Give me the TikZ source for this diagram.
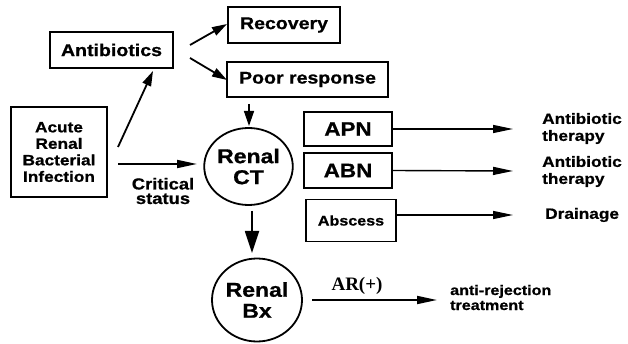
\documentclass[tikz,border=0pt]{standalone}
\usepackage{fontspec}
\setmainfont[FakeStretch=1.15, BoldFeatures={FakeBold=0.8}]{Liberation Sans}
\newfontfamily\arfont{Liberation Serif}
\usetikzlibrary{arrows.meta}
\tikzset{
  box/.style={draw, line width=1.8pt, inner sep=0pt, font=\bfseries\fontsize{17}{19}\selectfont},
  circ/.style={draw, ellipse, line width=1.8pt, inner sep=0pt, align=center, font=\bfseries\fontsize{20}{21}\selectfont},
  lbl/.style={font=\bfseries\fontsize{15}{17}\selectfont, align=left, inner sep=0pt},
  arr/.style={line width=1.8pt, -{Triangle[length=15pt,width=9pt]}},
  harr/.style={line width=1.4pt, -{Triangle[length=20pt,width=8pt]}}
}
\usetikzlibrary{shapes.geometric}
\begin{document}
\begin{tikzpicture}[x=1pt,y=-1pt]
\useasboundingbox[fill=white] (0,0) rectangle (628,344);
% boxes
\node[box, minimum width=123pt, minimum height=36pt] (anti) at (111.5,50) {Antibiotics};
\node[box, minimum width=112pt, minimum height=36pt] (rec) at (284,25) {Recovery};
\node[box, minimum width=161pt, minimum height=35pt] (poor) at (307.5,79.5) {Poor response};
\node[box, minimum width=96pt, minimum height=90pt, align=center, font=\bfseries\fontsize{15}{16.5}\selectfont] (acute) at (59,152) {Acute\\Renal\\Bacterial\\Infection};
\node[box, minimum width=88pt, minimum height=34pt, font=\bfseries\fontsize{19.5}{21}\selectfont] (apn) at (348,129) {APN};
\node[box, minimum width=88pt, minimum height=35pt, font=\bfseries\fontsize{19.5}{21}\selectfont] (abn) at (348,170.5) {ABN};
\node[box, minimum width=90pt, minimum height=42pt, font=\bfseries\fontsize{14}{16}\selectfont] (absc) at (351,220.5) {Abscess};
% circles
\node[circ, minimum width=87pt, minimum height=77pt] (ct) at (248.5,166.5) {Renal\\CT};
\node[circ, minimum width=90pt, minimum height=83pt] (bx) at (257,300) {Renal\\Bx};
% labels
\node[lbl, anchor=west] (t1) at (542,128.5) {Antibiotic\\therapy};
\node[lbl, anchor=west] (t2) at (542,171.5) {Antibiotic\\therapy};
\node[lbl, anchor=west] (t3) at (545,215) {Drainage};
\node[lbl, anchor=west, font=\bfseries\fontsize{14}{15}\selectfont] (t4) at (450,297.5) {anti-rejection\\treatment};
\node[lbl, align=center, font=\bfseries\fontsize{16}{14.5}\selectfont] (crit) at (163,191) {Critical\\status};
\node[inner sep=0pt, font=\arfont\bfseries\fontsize{19}{21}\selectfont] (ar) at (357,286) {AR(+)};
% coordinates
\coordinate (a1s) at (118,147);
\coordinate (a1e) at (153,71);
\coordinate (a2s) at (118,164);
\coordinate (a2e) at (197,164);
\coordinate (b1s) at (190,45);
\coordinate (b1e) at (227,24);
\coordinate (b2s) at (190,58);
\coordinate (b2e) at (227,80);
\coordinate (c1s) at (249,104);
\coordinate (c1e) at (249,126);
\coordinate (d1s) at (252,211);
\coordinate (d1e) at (252,253);
\coordinate (apnE) at (513,129);
\coordinate (abnE) at (513,171);
\coordinate (absE) at (513,215);
\coordinate (ars) at (312,300);
\coordinate (are) at (437,300);
% connectors
\draw[arr] (a1s) -- (a1e);
\draw[harr, line width=1.8pt] (a2s) -- (a2e);
\draw[arr] (b1s) -- (b1e);
\draw[arr] (b2s) -- (b2e);
\draw[line width=1.4pt, -{Triangle[length=15pt,width=10pt]}] (c1s) -- (c1e);
\draw[line width=1.8pt, -{Triangle[length=22pt,width=14pt]}] (d1s) -- (d1e);
\draw[harr] (apn.east) -- (apnE);
\draw[harr] (abn.east) -- (abnE);
\draw[harr] (absc.east |- absE) -- (absE);
\draw[harr, line width=1.8pt] (ars) -- (are);
\end{tikzpicture}
\end{document}
